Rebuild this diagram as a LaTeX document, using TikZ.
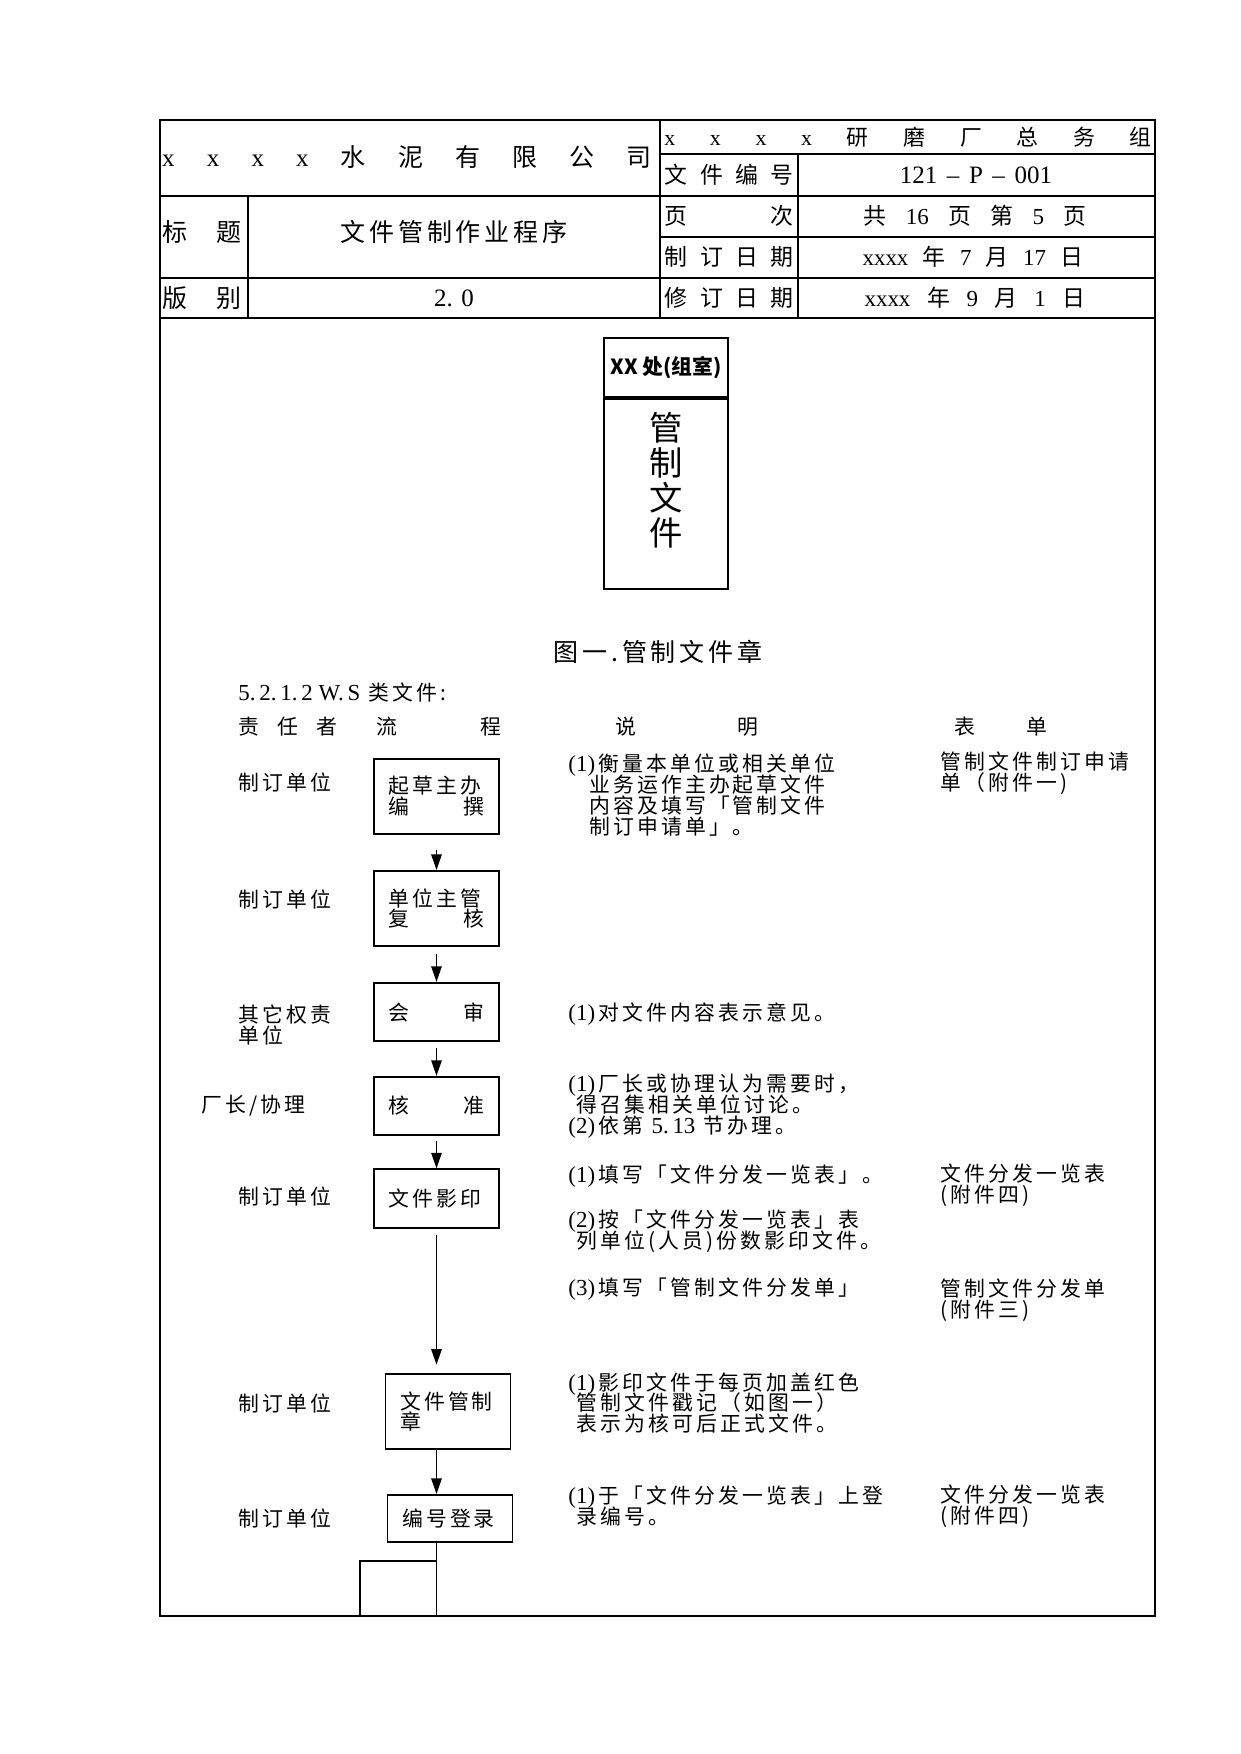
\documentclass[tikz,border=0pt]{standalone}
\usepackage{fontspec}
\setmainfont{Noto Sans CJK SC}
\newfontfamily\cjkwide{Noto Sans CJK SC}[LetterSpace=15]
\newfontfamily\lat{Liberation Serif}
\usepackage{tikz}
\usetikzlibrary{arrows.meta}
\newcommand{\bodyfont}{\cjkwide\fontsize{10}{10}\selectfont\lineskiplimit=-5pt}
\newcommand{\spreadtext}[2]{\makebox[#1][s]{\spaceskip=0pt plus 1fil\relax#2}}
\newcommand{\boxspread}[2]{\makebox[46pt]{#1\hfill#2}}
\newcommand{\itm}[1]{{\lat\fontsize{11}{10}\selectfont(#1)\,}}

\begin{document}
\begin{tikzpicture}[x=0.48pt, y=-0.48pt,
  frame/.style={line width=1.4pt},
  hdr/.style={inner sep=0pt, font=\fontsize{12}{14}\selectfont},
  hdrsmall/.style={inner sep=0pt, font=\fontsize{11}{13}\selectfont},
  flowbox/.style={draw, line width=0.9pt, minimum width=60pt, text width=46pt, align=left, inner sep=0pt, font=\bodyfont},
  lbl/.style={anchor=west, inner sep=0pt, align=left, font=\bodyfont},
  stampbox/.style={draw, line width=1.1pt, minimum width=59.5pt, inner sep=0pt},
  arr/.style={line width=0.75pt, -{Triangle[length=7.5pt, width=5pt]}}
]
  \useasboundingbox (0,0) rectangle (1241,1754);
  \draw[frame] (160,120) rectangle (1155,1616);
  \draw[frame] (160,196) -- (1155,196) (160,278) -- (1155,278) (160,318) -- (1155,318)
    (660,154) -- (1155,154) (660,237) -- (1155,237)
    (248,196) -- (248,318) (660,120) -- (660,318) (798,154) -- (798,318);

  \node[hdr] (company) at (407,157) {\spreadtext{235pt}{{\lat x} {\lat x} {\lat x} {\lat x} 水 泥 有 限 公 司}};
  \node[hdr, font=\fontsize{10.5}{12}\selectfont] (dept) at (908,137) {\spreadtext{234pt}{{\lat x} {\lat x} {\lat x} {\lat x} 研 磨 厂 总 务 组}};
  \node[hdr] (titlekey) at (202,232) {\spreadtext{38pt}{标 题}};
  \node[hdr, font=\cjkwide\fontsize{12}{14}\selectfont] (titleval) at (454,232) {文件管制作业程序};
  \node[hdr] (verkey) at (202,298) {\spreadtext{38pt}{版 别}};
  \node[hdr, font=\lat\fontsize{12}{14}\selectfont] (verval) at (454,298) {2.\,\,0};
  \node[hdrsmall] (nokey) at (729,175) {\spreadtext{61.5pt}{文 件 编 号}};
  \node[hdrsmall] (pagekey) at (729,216) {\spreadtext{61.5pt}{页 次}};
  \node[hdrsmall] (madekey) at (729,257) {\spreadtext{61.5pt}{制 订 日 期}};
  \node[hdrsmall] (revkey) at (729,298) {\spreadtext{61.5pt}{修 订 日 期}};
  \node[hdr, font=\lat\fontsize{12}{14}\selectfont] (noval) at (976,175) {\spreadtext{73pt}{121 – P – 001}};
  \node[hdrsmall] (pageval) at (975,216) {\spreadtext{107pt}{共 {\lat 16} 页 第 {\lat 5} 页}};
  \node[hdrsmall] (madeval) at (973,257) {\spreadtext{106pt}{{\lat xxxx} 年 {\lat 7} 月 {\lat 17} 日}};
  \node[hdrsmall] (revval) at (975,298) {\spreadtext{106pt}{{\lat xxxx} 年 {\lat 9} 月 {\lat 1} 日}};

  \node[stampbox, minimum height=28.3pt, font=\bfseries\fontsize{10}{12}\selectfont] (stamphead) at (666,367.5) {XX 处(组室)};
  \node[stampbox, minimum height=91.2pt, anchor=north] (stampbody) at (stamphead.south) {};
  \node[align=center, inner sep=0pt, font=\fontsize{16}{16.8}\selectfont] (stampword) at (666,480) {管\\制\\文\\件};
  \node[inner sep=0pt, font=\cjkwide\fontsize{12}{14}\selectfont] (figcap) at (658,652) {图一.管制文件章};

  \node[lbl] (section) at (238,692) {{\lat\fontsize{11}{10}\selectfont 5.\,2.\,1.\,2 W.\,S} 类文件:};
  \node[lbl] (colwho) at (238,727) {\spreadtext{47.5pt}{责 任 者}};
  \node[lbl] (colflow) at (376,727) {\spreadtext{60pt}{流 程}};
  \node[lbl] (coldesc) at (615,727) {\spreadtext{68.6pt}{说 明}};
  \node[lbl] (colform) at (954,727) {\spreadtext{44.6pt}{表 单}};

  \foreach \y/\n in {782/1, 899/2, 1196/5, 1403/6, 1518/7}
    \node[lbl] (who\n) at (238,\y) {制订单位};
  \node[lbl] (who3) at (238,1025) {其它权责\\单位};
  \node[lbl] (who4) at (201,1106) {厂长/协理};

  \node[flowbox, minimum height=36pt] (b1) at (436.5,796.5) {起草主办\\\boxspread{编}{撰}};
  \node[flowbox, minimum height=36pt] (b2) at (436.5,908.5) {单位主管\\\boxspread{复}{核}};
  \node[flowbox, minimum height=28pt] (b3) at (436.5,1012) {\boxspread{会}{审}};
  \node[flowbox, minimum height=28pt] (b4) at (436.5,1106) {\boxspread{核}{准}};
  \node[flowbox, minimum height=28pt] (b5) at (436.5,1198.5) {文件影印};
  \node[flowbox, minimum height=36pt] (b6) at (448,1411.5) {文件管制\\章};
  \node[flowbox, minimum height=22.6pt] (b7) at (450,1518.5) {编号登录};

  \draw[arr, shorten <=7pt] (b1) -- (b2);
  \draw[arr, shorten <=3.5pt] (b2) -- (b3);
  \draw[arr, shorten <=3pt] (b3) -- (b4);
  \draw[arr, shorten <=2.5pt] (b4) -- (b5);
  \draw[arr, shorten <=3pt, shorten >=4pt] (b5) -- (b5 |- b6.north);
  \draw[arr] (b6.south -| b5) -- (b7.north -| b5);
  \coordinate (turn) at (360,1561);
  \coordinate (foot) at (360,1616);
  \draw[line width=0.75pt] (b7.south -| b5) -- (b5 |- foot);
  \draw[line width=0.75pt] (b5 |- turn) -- (turn) -- (foot);

  \node[lbl] (d1) at (568,795) {\itm{1}衡量本单位或相关单位\\\hspace*{1em}业务运作主办起草文件\\\hspace*{1em}内容及填写「管制文件\\\hspace*{1em}制订申请单」。};
  \node[lbl] (d3) at (568,1014) {\itm{1}对文件内容表示意见。};
  \node[lbl] (d4) at (568,1106) {\itm{1}厂长或协理认为需要时，\\\hspace*{0.4em}得召集相关单位讨论。\\\itm{2}依第 {\lat\fontsize{11}{10}\selectfont 5.\,13} 节办理。};
  \node[lbl] (d5a) at (568,1176) {\itm{1}填写「文件分发一览表」。};
  \node[lbl] (d5b) at (568,1231) {\itm{2}按「文件分发一览表」表\\\hspace*{0.4em}列单位(人员)份数影印文件。};
  \node[lbl] (d5c) at (568,1289) {\itm{3}填写「管制文件分发单」};
  \node[lbl] (d6) at (568,1403) {\itm{1}影印文件于每页加盖红色\\\hspace*{0.4em}管制文件戳记（如图一）\\\hspace*{0.4em}表示为核可后正式文件。};
  \node[lbl] (d7) at (568,1506) {\itm{1}于「文件分发一览表」上登\\\hspace*{0.4em}录编号。};

  \node[lbl] (f1) at (940,773) {管制文件制订申请\\单（附件一)};
  \node[lbl] (f5a) at (940,1185) {文件分发一览表\\(附件四)};
  \node[lbl] (f5c) at (940,1300) {管制文件分发单\\(附件三)};
  \node[lbl] (f7) at (940,1506) {文件分发一览表\\(附件四)};
\end{tikzpicture}
\end{document}
